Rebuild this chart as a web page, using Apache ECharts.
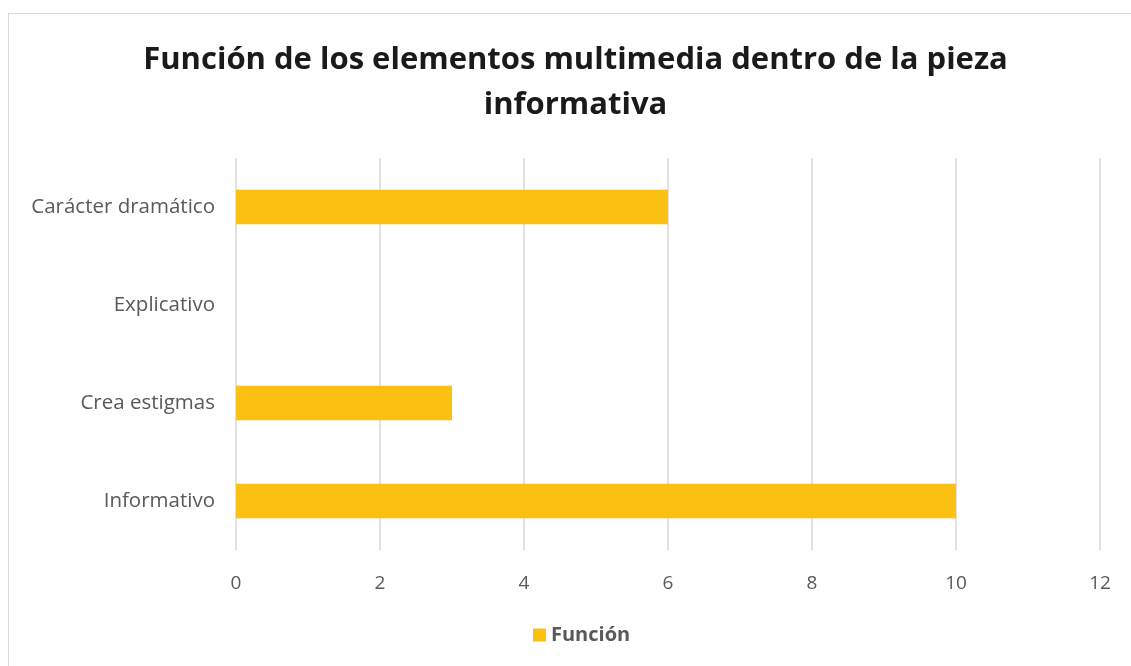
<!DOCTYPE html>
<html>
<head>
<meta charset="utf-8">
<script src="https://cdn.jsdelivr.net/npm/echarts@6/dist/echarts.min.js"></script>
<style>
  html, body { margin: 0; padding: 0; background: #fff; overflow: hidden; }
  .frame {
    position: absolute; left: 8px; top: 13px;
    width: 1140px; height: 670px;
    border: 1px solid #d9d9d9;
    box-sizing: border-box;
  }
  /* a bit wider than the window so the centred title lands where the original has it */
  #chart { position: absolute; left: 0; top: 0; width: 1151px; height: 666px; }
</style>
</head>
<body>
<div class="frame"></div>
<div id="chart"></div>
<script>
// categories, bottom to top
const categories = ['Informativo', 'Crea estigmas', 'Explicativo', 'Carácter dramático']
const values = [10, 3, 0, 6]
const seriesName = 'Función'

const chart = echarts.init(document.getElementById('chart'))

const option = {
  animation: false,
  title: {
    text: 'Función de los elementos multimedia dentro de la pieza\ninformativa',
    left: 'center',
    top: 33,
    textStyle: {
      fontFamily: 'Open Sans, Liberation Sans, sans-serif',
      fontSize: 31,
      fontWeight: 'bold',
      color: '#1a1a1a',
      lineHeight: 45
    }
  },
  grid: {
    left: 236,
    right: 51,
    top: 158,
    bottom: 116,
    containLabel: false
  },
  legend: {
    bottom: 16,
    left: 528,
    itemWidth: 13,
    itemHeight: 13,
    icon: 'rect',
    itemGap: 6,
    textStyle: {
      fontFamily: 'Open Sans, Liberation Sans, sans-serif',
      fontSize: 20,
      fontWeight: 'bold',
      color: '#595959'
    },
    data: [seriesName]
  },
  xAxis: {
    type: 'value',
    min: 0,
    max: 12,
    interval: 2,
    axisLine: { show: false },
    axisTick: { show: false },
    axisLabel: {
      margin: 24,
      fontFamily: 'Open Sans, Liberation Sans, sans-serif',
      fontSize: 19,
      color: '#595959'
    },
    splitLine: { lineStyle: { color: '#d9d9d9', width: 1.5 } }
  },
  yAxis: {
    type: 'category',
    data: categories,
    axisLine: { show: false },
    axisTick: { show: false },
    axisLabel: {
      margin: 21,
      fontFamily: 'Open Sans, Liberation Sans, sans-serif',
      fontSize: 20.5,
      color: '#595959'
    }
  },
  series: [
    {
      name: seriesName,
      type: 'bar',
      data: values,
      barWidth: '35%',
      itemStyle: { color: '#FBC012' }
    }
  ]
}

chart.setOption(option)
</script>
</body>
</html>
